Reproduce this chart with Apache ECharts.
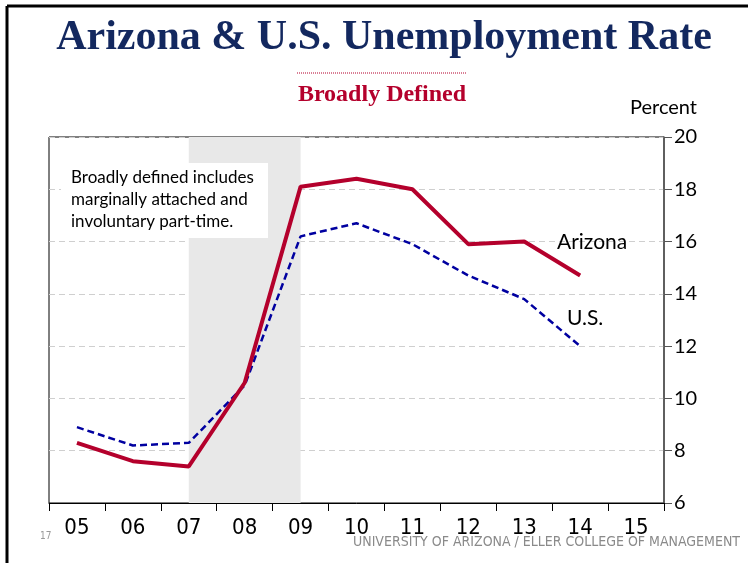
<!DOCTYPE html>
<html>
<head>
<meta charset="utf-8">
<title>Arizona & U.S. Unemployment Rate</title>
<script src="https://cdn.jsdelivr.net/npm/echarts@6/dist/echarts.min.js"></script>
<style>
  html, body { margin: 0; padding: 0; background: #fff; }
  #chart { width: 748px; height: 563px; }
</style>
</head>
<body>
<div id="chart"></div>
<script>
// years (two-digit labels), 15 has no data yet
var years = ['05', '06', '07', '08', '09', '10', '11', '12', '13', '14', '15'];
var arizona = [8.3, 7.6, 7.4, 10.6, 18.1, 18.4, 18.0, 15.9, 16.0, 14.7, null];
var us = [8.9, 8.2, 8.3, 10.5, 16.2, 16.7, 15.9, 14.7, 13.8, 12.0, null];
var recession = ['07', '09'];

var navy = '#13285f';
var crimson = '#b4002c';
var narrow = '"Liberation Sans Narrow", "DejaVu Sans Condensed", sans-serif';
var sans = 'Lato, "Open Sans", sans-serif';

var chart = echarts.init(document.getElementById('chart'));

chart.setOption({
    animation: false,
    grid: { left: 49, right: 84, top: 137, bottom: 60, show: true, borderColor: '#000', borderWidth: 1 },
    xAxis: {
        type: 'category',
        data: years,
        boundaryGap: true,
        axisLine: { lineStyle: { color: '#000', width: 1 } },
        axisTick: { show: true, length: 8, lineStyle: { color: '#000' } },
        axisLabel: { color: '#000', fontFamily: narrow, fontSize: 22, margin: 14 },
        splitLine: { show: false }
    },
    yAxis: {
        type: 'value',
        position: 'right',
        min: 6, max: 20, interval: 2,
        axisLine: { show: true, lineStyle: { color: '#555', width: 1.5 } },
        axisTick: { show: true, length: 8, lineStyle: { color: '#555' } },
        axisLabel: { color: '#000', fontFamily: sans, fontSize: 20, margin: 10 },
        splitLine: { show: true, lineStyle: { color: '#cfcfcf', type: [6, 4], width: 1 } }
    },
    series: [
        {
            name: 'U.S.',
            type: 'line',
            data: us,
            symbol: 'none',
            lineStyle: { color: '#0000a0', width: 2.5, type: [7, 4] },
            markArea: {
                silent: true,
                itemStyle: { color: '#e8e8e8' },
                data: [[{ xAxis: recession[0] }, { xAxis: recession[1] }]]
            },
            z: 3
        },
        {
            name: 'Arizona',
            type: 'line',
            data: arizona,
            symbol: 'none',
            lineStyle: { color: crimson, width: 4 },
            z: 4
        }
    ],
    graphic: [
        // slide border lines
        { type: 'line', shape: { x1: 7, y1: 6, x2: 748, y2: 6 }, style: { stroke: '#000', lineWidth: 3 } },
        { type: 'line', shape: { x1: 7, y1: 6, x2: 7, y2: 563 }, style: { stroke: '#000', lineWidth: 3 } },
        {
            type: 'text', x: 384, y: 38,
            style: { text: 'Arizona & U.S. Unemployment Rate', fill: navy, font: 'bold 42px "Liberation Serif", serif', align: 'center', verticalAlign: 'middle' }
        },
        {
            type: 'line', shape: { x1: 297, y1: 73, x2: 467, y2: 73 },
            style: { stroke: crimson, lineWidth: 1, lineDash: [1, 1] }
        },
        {
            type: 'text', x: 382, y: 95,
            style: { text: 'Broadly Defined', fill: crimson, font: 'bold 24px "Liberation Serif", serif', align: 'center', verticalAlign: 'middle' }
        },
        {
            type: 'text', x: 697, y: 108,
            style: { text: 'Percent', fill: '#000', font: '20px ' + sans, align: 'right', verticalAlign: 'middle' }
        },
        // note box
        {
            type: 'rect', shape: { x: 61, y: 163, width: 207, height: 75 },
            style: { fill: '#fff' }, z: 10
        },
        {
            type: 'text', x: 71, y: 167, z: 11,
            style: {
                text: 'Broadly defined includes\nmarginally attached and\ninvoluntary part-time.',
                fill: '#000', font: '17px ' + sans, lineHeight: 22
            }
        },
        {
            type: 'text', x: 557, y: 242, z: 11,
            style: { text: 'Arizona', fill: '#000', font: '21px ' + sans, verticalAlign: 'middle' }
        },
        {
            type: 'text', x: 567, y: 318, z: 11,
            style: { text: 'U.S.', fill: '#000', font: '21px ' + sans, verticalAlign: 'middle' }
        },
        {
            type: 'text', x: 40, y: 536, z: 11,
            style: { text: '17', fill: '#999', font: '10px ' + narrow, verticalAlign: 'middle' }
        },
        {
            type: 'text', x: 740, y: 542, z: 11,
            style: { text: 'UNIVERSITY OF ARIZONA / ELLER COLLEGE OF MANAGEMENT', fill: '#8a8a8a', font: '14px ' + narrow, align: 'right', verticalAlign: 'middle' }
        }
    ]
});
</script>
</body>
</html>
